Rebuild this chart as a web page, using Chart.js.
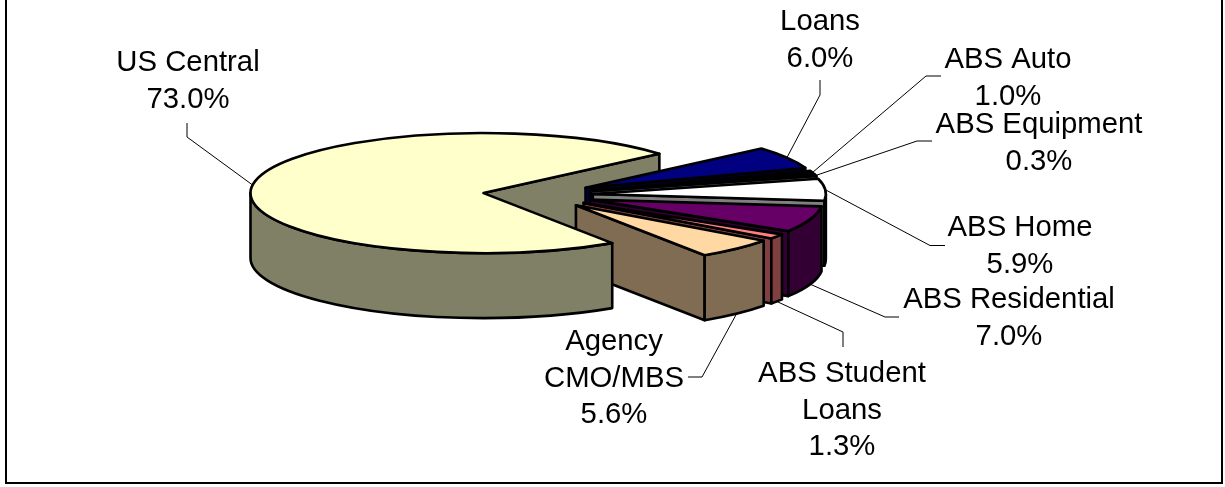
<!DOCTYPE html>
<html>
<head>
<meta charset="utf-8">
<title>Portfolio mix</title>
<script src="https://cdn.jsdelivr.net/npm/chart.js@4"></script>
<style>
    html, body { margin: 0; padding: 0; background: #fff; }
    canvas { display: block; }
</style>
</head>
<body>
<canvas id="pieChart" width="1225" height="487"></canvas>
<script>
const categories = ['Loans', 'ABS Auto', 'ABS Equipment', 'ABS Home', 'ABS Residential', 'ABS Student Loans', 'Agency CMO/MBS', 'US Central'];
const shares = [6.0, 1.0, 0.3, 5.9, 7.0, 1.3, 5.6, 73.0];

const topColors = ['#000080', '#000000', '#CCCCFF', '#FFFFFF', '#660066', '#FF8080', '#FFD8A3', '#FFFFCC'];
const wallColors = ['#000040', '#000000', '#666680', '#808080', '#330033', '#804040', '#806C52', '#808066'];

// how each label is wrapped, centre x, centre y of first line, then the leader's elbow and end
const labelLines = [['Loans'], ['ABS Auto'], ['ABS Equipment'], ['ABS Home'], ['ABS Residential'], ['ABS Student', 'Loans'], ['Agency', 'CMO/MBS'], ['US Central']];
const labelSpots = [
    [820, 22, 820, 95, 820, 80],
    [1008, 60, 926, 76, 941, 76],
    [1039, 125, 917, 141, 932, 141],
    [1020, 228, 930, 245.5, 945, 245.5],
    [1009, 300, 885, 317, 899, 317],
    [842, 374, 843, 332, 843, 347],
    [614, 342, 702, 377, 688, 377],
    [188, 63, 187, 137, 187, 123]
];

const pieX = 538, pieY = 195, radiusX = 233, radiusY = 60, depth = 65, explode = 55;
const lineGap = 36.5;

function sliceBox(arc) {
    const mid = (arc.startAngle + arc.endAngle) / 2;
    return {
        x: pieX + Math.cos(mid) * explode,
        y: pieY + Math.sin(mid) * explode * radiusY / radiusX,
        mid: mid
    };
}

function outlineTop(ctx, arc, box) {
    ctx.beginPath();
    ctx.moveTo(box.x, box.y);
    ctx.ellipse(box.x, box.y, radiusX, radiusY, 0, arc.startAngle, arc.endAngle);
    ctx.closePath();
    ctx.stroke();
}

function drawCutFace(ctx, box, angle, color) {
    const ex = box.x + Math.cos(angle) * radiusX;
    const ey = box.y + Math.sin(angle) * radiusY;
    ctx.beginPath();
    ctx.moveTo(box.x, box.y);
    ctx.lineTo(ex, ey);
    ctx.lineTo(ex, ey + depth);
    ctx.lineTo(box.x, box.y + depth);
    ctx.closePath();
    ctx.fillStyle = color;
    ctx.fill();
    ctx.stroke();
}

function drawOuterWall(ctx, arc, box, color) {
    // walk the bottom half of the ellipse only, that is the part facing us
    const turn = Math.PI * 2;
    const from = Math.floor(arc.startAngle / turn) * turn;
    for (let k = 0; k < 3; k++) {
        const a0 = Math.max(arc.startAngle, from + k * turn);
        const a1 = Math.min(arc.endAngle, from + k * turn + Math.PI);
        if (a1 <= a0) continue;
        ctx.beginPath();
        ctx.ellipse(box.x, box.y, radiusX, radiusY, 0, a0, a1);
        ctx.ellipse(box.x, box.y + depth, radiusX, radiusY, 0, a1, a0, true);
        ctx.closePath();
        ctx.fillStyle = color;
        ctx.fill();
        ctx.stroke();
    }
}

function drawSliceTop(ctx, arc, box) {
    const scale = radiusX / arc.outerRadius;
    ctx.save();
    ctx.translate(box.x, box.y);
    ctx.scale(scale, radiusY / arc.outerRadius);
    ctx.translate(-arc.x, -arc.y);
    arc.draw(ctx);
    ctx.restore();
    outlineTop(ctx, arc, box);
}

function drawSlice(ctx, arc, index, skipBackFace) {
    const box = sliceBox(arc);
    if (Math.cos(arc.startAngle) < 0 && !skipBackFace) drawCutFace(ctx, box, arc.startAngle, wallColors[index]);
    if (Math.cos(arc.endAngle) > 0 && !skipBackFace) drawCutFace(ctx, box, arc.endAngle, wallColors[index]);
    drawOuterWall(ctx, arc, box, wallColors[index]);
    drawSliceTop(ctx, arc, box);
}

const pie3d = {
    id: 'pie3d',
    beforeDatasetDraw(chart) {
        const ctx = chart.ctx;
        const arcs = chart.getDatasetMeta(0).data;
        const last = arcs.length - 1;

        ctx.save();
        ctx.strokeStyle = '#000';
        ctx.lineWidth = 2.6;
        ctx.lineJoin = 'round';

        // big slice: its back cut face sits behind the exploded slices, the rest in front of them
        const bigBox = sliceBox(arcs[last]);
        drawCutFace(ctx, bigBox, arcs[last].endAngle, wallColors[last]);
        for (let i = 0; i < last; i++) {
            drawSlice(ctx, arcs[i], i, false);
        }
        drawSlice(ctx, arcs[last], last, true);
        ctx.restore();
        return false;
    },
    afterDraw(chart) {
        const ctx = chart.ctx;
        const arcs = chart.getDatasetMeta(0).data;

        ctx.save();
        // frame, its top edge falls outside the picture
        ctx.strokeStyle = '#000';
        ctx.lineWidth = 2;
        ctx.strokeRect(6, -4, 1216, 487);

        ctx.lineWidth = 1;
        ctx.font = '29.3px "Liberation Sans", Arial, sans-serif';
        ctx.fillStyle = '#000';
        ctx.textAlign = 'center';
        ctx.textBaseline = 'middle';

        arcs.forEach((arc, i) => {
            const box = sliceBox(arc);
            const spot = labelSpots[i];
            const sx = box.x + Math.cos(box.mid) * radiusX;
            let sy = box.y + Math.sin(box.mid) * radiusY;
            if (Math.sin(box.mid) > 0.1) sy += depth;

            ctx.beginPath();
            ctx.moveTo(sx, sy);
            ctx.lineTo(spot[2], spot[3]);
            ctx.lineTo(spot[4], spot[5]);
            ctx.stroke();

            const lines = labelLines[i].concat(shares[i].toFixed(1) + '%');
            lines.forEach((line, n) => {
                ctx.fillText(line, spot[0], spot[1] + n * lineGap);
            });
        });
        ctx.restore();
    }
};

new Chart(document.getElementById('pieChart').getContext('2d'), {
    type: 'pie',
    data: {
        labels: categories,
        datasets: [{
            data: shares,
            backgroundColor: topColors,
            borderWidth: 0
        }]
    },
    options: {
        responsive: false,
        animation: false,
        rotation: 49,
        plugins: {
            legend: { display: false },
            tooltip: { enabled: false }
        }
    },
    plugins: [pie3d]
});
</script>
</body>
</html>
